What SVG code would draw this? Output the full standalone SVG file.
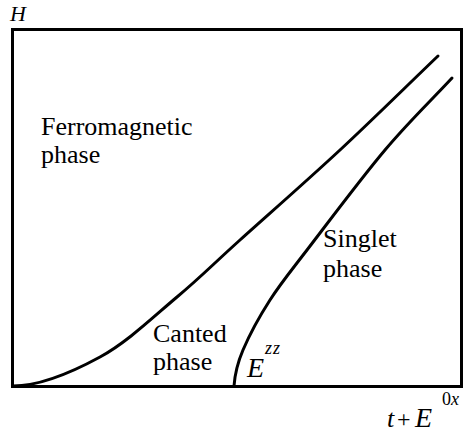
<svg xmlns="http://www.w3.org/2000/svg" width="467" height="436" viewBox="0 0 467 436">
<style>
.t{font-family:'Liberation Serif','DejaVu Serif','Times New Roman',serif;font-size:26px;fill:#000}
.i{font-style:italic}
.c{fill:none;stroke:#000;stroke-width:3;stroke-linecap:round}
</style>
<rect width="467" height="436" fill="#fff"/>
<g id="frame"><rect x="12.5" y="29.5" width="449" height="357" fill="none" stroke="#000" stroke-width="3"/></g>
<g id="connectors">
<path class="c" d="M13,386 C40,386 72.5,372 100,357 C127.5,342 153.7,316.5 177,297 C200.3,277.5 212.8,264.5 240,240 C267.2,215.5 307,180.7 340,150 C373,119.3 405.3,87.3 438,56"/>
<path class="c" d="M234,386 C234.8,375.3 236.8,364.5 243,350 C249.2,335.5 259.3,316.7 270,300 C280.7,283.3 287.8,275 307,250 C326.2,225 360.8,178.7 385,150 C409.2,121.3 429.7,102 452,78"/>
</g>
<g class="t" font-family="'Liberation Serif','DejaVu Serif','Times New Roman',serif">
<g id="axis-h"><text x="10" y="21" class="i" font-size="22">H</text></g>
<g id="ferro"><text x="41" y="135">Ferromagnetic</text><text x="41" y="163">phase</text></g>
<g id="singlet"><text x="323" y="247">Singlet</text><text x="323" y="277">phase</text></g>
<g id="canted"><text x="153" y="342">Canted</text><text x="153" y="370">phase</text></g>
<g id="ezz"><text x="247" y="377" class="i" font-size="28">E</text><text x="265" y="354" class="i" font-size="18" letter-spacing="1">zz</text></g>
<g id="axis-x"><text x="387" y="427" class="i">t</text><text x="397" y="427" font-size="24">+</text><text x="415" y="427" class="i" font-size="28">E</text><text x="442" y="405" font-size="18">0<tspan class="i">x</tspan></text></g>
</g>
</svg>
